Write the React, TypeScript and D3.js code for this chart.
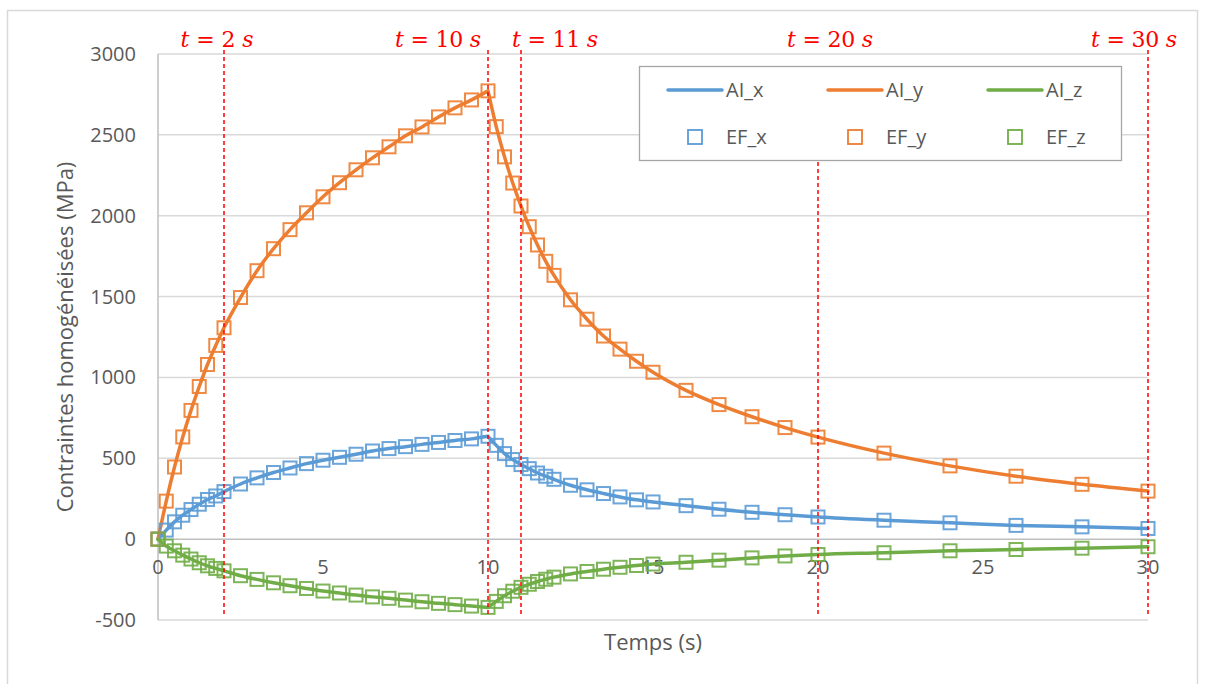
import React from "react";
import * as d3 from "d3";

// ---- data ----
const times = [0, 0.25, 0.5, 0.75, 1, 1.25, 1.5, 1.75, 2, 2.5, 3, 3.5, 4, 4.5, 5, 5.5, 6, 6.5, 7, 7.5, 8, 8.5, 9, 9.5, 10,
  10.25, 10.5, 10.75, 11, 11.25, 11.5, 11.75, 12, 12.5, 13, 13.5, 14, 14.5, 15, 16, 17, 18, 19, 20, 22, 24, 26, 28, 30];

const efX = [0, 56, 107, 148, 183, 216, 245, 267, 294, 341, 379, 412, 440, 467, 488, 506, 525, 545, 560, 572, 586, 598, 610, 620, 636,
  580, 529, 492, 461, 436, 409, 389, 370, 333, 305, 282, 261, 243, 230, 207, 185, 166, 151, 137, 117, 101, 85, 76, 66];
const efY = [0, 235, 446, 632, 796, 944, 1080, 1198, 1307, 1494, 1660, 1796, 1914, 2018, 2117, 2204, 2284, 2358, 2426, 2494, 2549, 2611, 2667, 2716, 2772,
  2551, 2364, 2202, 2060, 1932, 1819, 1718, 1631, 1480, 1360, 1256, 1175, 1100, 1032, 920, 832, 757, 690, 631, 532, 453, 389, 339, 297];
const efZ = [0, -43, -72, -99, -123, -146, -165, -181, -196, -226, -249, -270, -288, -305, -321, -333, -346, -357, -366, -377, -387, -397, -405, -414, -422,
  -385, -350, -322, -298, -279, -262, -248, -235, -215, -200, -186, -174, -163, -154, -143, -130, -116, -104, -95, -84, -72, -64, -56, -47];

const aiX = [0, 56, 107, 148, 183, 216, 245, 267, 294, 341, 379, 412, 440, 467, 488, 506, 525, 545, 560, 572, 586, 598, 610, 620, 636,
  580, 529, 492, 461, 436, 409, 389, 370, 333, 305, 282, 261, 243, 230, 207, 185, 166, 151, 137, 117, 101, 85, 76, 66];
const aiY = [0, 235, 446, 632, 796, 944, 1080, 1198, 1307, 1494, 1660, 1796, 1914, 2018, 2117, 2204, 2284, 2358, 2426, 2494, 2549, 2611, 2667, 2716, 2772,
  2551, 2364, 2202, 2060, 1932, 1819, 1718, 1631, 1480, 1360, 1256, 1175, 1100, 1032, 920, 832, 757, 690, 631, 532, 453, 389, 339, 297];
const aiZ = [0, -43, -72, -99, -123, -146, -165, -181, -196, -226, -249, -270, -288, -305, -321, -333, -346, -357, -366, -377, -387, -397, -405, -414, -422,
  -385, -350, -322, -298, -279, -262, -248, -235, -215, -200, -186, -174, -163, -154, -143, -130, -116, -104, -95, -84, -72, -64, -56, -47];

const xTicks = [0, 5, 10, 15, 20, 25, 30];
const yTicks = [-500, 0, 500, 1000, 1500, 2000, 2500, 3000];
const markTimes = [2, 10, 11, 20, 30];
const peakTime = 10;

const lineNames = ["AI_x", "AI_y", "AI_z"];
const markerNames = ["EF_x", "EF_y", "EF_z"];
const xTitle = "Temps (s)";
const yTitle = "Contraintes homogénéisées (MPa)";

// ---- styles / layout ----
const W = 1205, H = 684;
const P = { left: 158, right: 1148, top: 54, bottom: 620 };
const colors = ["#5b9bd5", "#ed7d31", "#70ad47"];
const labelDx = [-7, -50, 34, 12, -14];
const labelLen = [73, 86, 86, 86, 86];
const markLineTop = [50, 50, 50, 162, 50];
const markLineBottom = 614;
const font = "'Open Sans', sans-serif";

export default function App() {
  const x = d3.scaleLinear().domain([0, 30]).range([P.left, P.right]);
  const y = d3.scaleLinear().domain([-500, 3000]).range([P.bottom, P.top]);

  const mkPath = (vals: number[]) => {
    const pts = times.map((t, i) => [t, vals[i]] as [number, number]);
    const gen = d3.line<[number, number]>().x(d => x(d[0])).y(d => y(d[1])).curve(d3.curveMonotoneX);
    const a = pts.filter(p => p[0] <= peakTime);
    const b = pts.filter(p => p[0] >= peakTime);
    return (gen(a) || "") + (gen(b) || "");
  };

  const aiSeries = [aiX, aiY, aiZ];
  const efSeries = [efX, efY, efZ];
  const ms = 13;

  return (
    <svg width={W} height={H} style={{ position: "absolute", left: 0, top: 0, display: "block", background: "#fff" }}>
      <rect x={7.5} y={10.5} width={1190} height={690} fill="#fff" stroke="#d9d9d9" strokeWidth={1.5} />
      {/* gridlines */}
      {yTicks.filter(v => v !== 0).map(v => (
        <line key={v} x1={P.left} x2={P.right} y1={y(v)} y2={y(v)} stroke="#d9d9d9" strokeWidth={1.5} />
      ))}
      {/* axes */}
      <line x1={P.left} x2={P.left} y1={P.top} y2={P.bottom} stroke="#bfbfbf" strokeWidth={1.5} />
      <line x1={P.left} x2={P.right} y1={y(0)} y2={y(0)} stroke="#bfbfbf" strokeWidth={1.5} />
      {/* y tick labels */}
      {yTicks.map(v => (
        <text key={v} x={136} y={y(v)} dy="0.35em" textAnchor="end" fontFamily={font} fontSize={20} fill="#595959">{v}</text>
      ))}
      {/* x tick labels */}
      {xTicks.map(v => (
        <text key={v} x={x(v)} y={y(0) + 28} dy="0.35em" textAnchor="middle" fontFamily={font} fontSize={20} fill="#595959">{v}</text>
      ))}
      {/* axis titles */}
      <text x={(P.left + P.right) / 2} y={642} dy="0.35em" textAnchor="middle" fontFamily={font} fontSize={22} fill="#595959">{xTitle}</text>
      <text transform={`translate(65,${(P.top + P.bottom) / 2}) rotate(-90)`} dy="0.35em" textAnchor="middle" fontFamily={font} fontSize={22} fill="#595959">{yTitle}</text>
      {/* lines */}
      {aiSeries.map((s, i) => (
        <path key={i} d={mkPath(s)} fill="none" stroke={colors[i]} strokeWidth={3.5} strokeLinejoin="round" strokeLinecap="round" />
      ))}
      {/* markers */}
      {efSeries.map((s, i) => (
        <g key={i}>
          {times.map((t, j) => (
            <rect key={j} x={x(t) - ms / 2} y={y(s[j]) - ms / 2} width={ms} height={ms} fill="none" stroke={colors[i]} strokeWidth={2} opacity={0.9} />
          ))}
        </g>
      ))}
      {/* legend */}
      <rect x={639.5} y={66.5} width={482} height={94} fill="#fff" stroke="#a6a6a6" strokeWidth={1.3} />
      {lineNames.map((n, i) => (
        <g key={n}>
          <line x1={668 + i * 160} x2={722 + i * 160} y1={90} y2={90} stroke={colors[i]} strokeWidth={3.5} strokeLinecap="round" />
          <text x={726 + i * 160} y={90} dy="0.35em" fontFamily={font} fontSize={20} fill="#595959">{n}</text>
        </g>
      ))}
      {markerNames.map((n, i) => (
        <g key={n}>
          <rect x={695 + i * 160 - 7} y={137 - 7} width={14} height={14} fill="none" stroke={colors[i]} strokeWidth={1.8} />
          <text x={726 + i * 160} y={137} dy="0.35em" fontFamily={font} fontSize={20} fill="#595959">{n}</text>
        </g>
      ))}
      {/* time markers */}
      {markTimes.map((t, i) => (
        <g key={t}>
          <line x1={x(t)} x2={x(t)} y1={markLineTop[i]} y2={markLineBottom} stroke="#ff0000" strokeWidth={1.5} strokeDasharray="4 3" />
          <text x={x(t) + labelDx[i]} y={47} textAnchor="middle" fontFamily="'DejaVu Serif', serif" fontSize={22} fill="#ff0000"
            textLength={labelLen[i]} lengthAdjust="spacing">
            <tspan fontStyle="italic">t</tspan>{` = ${t} `}<tspan fontStyle="italic">s</tspan>
          </text>
        </g>
      ))}
    </svg>
  );
}
